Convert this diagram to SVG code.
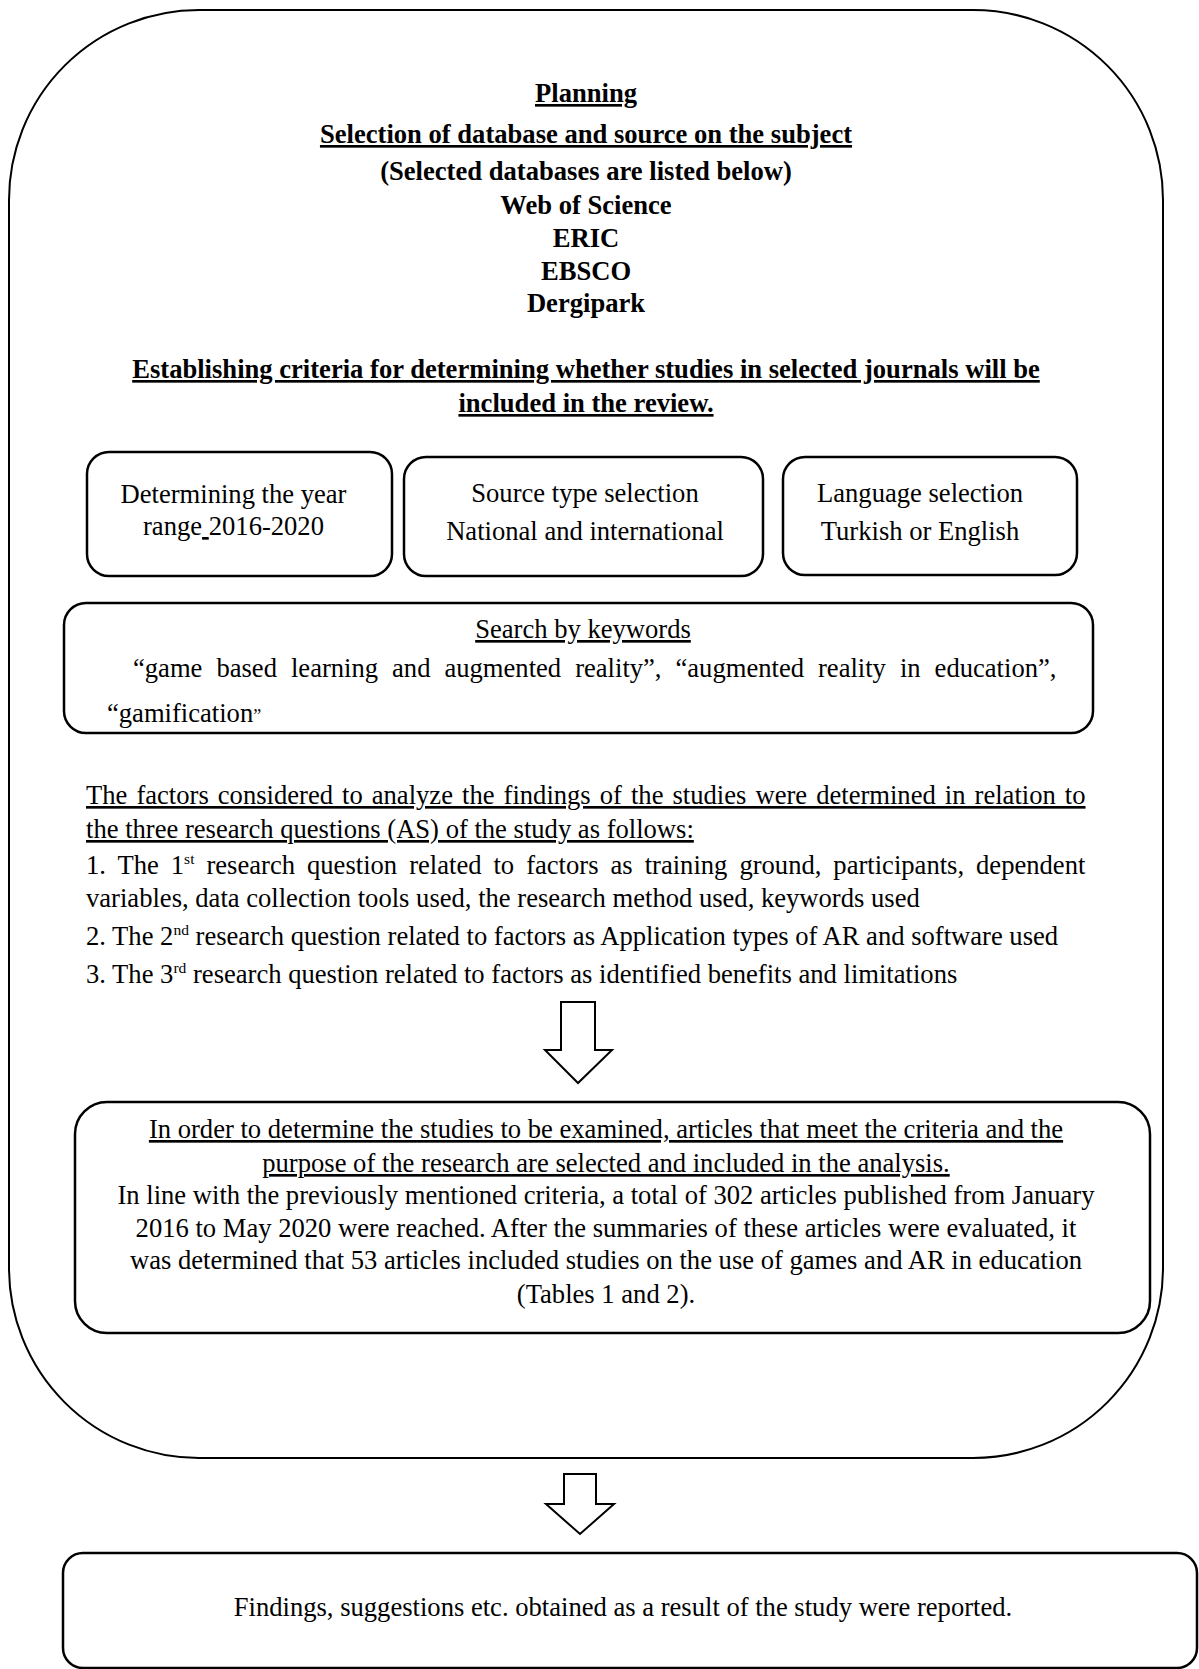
<svg xmlns="http://www.w3.org/2000/svg" width="1199" height="1669" viewBox="0 0 1199 1669">
<style>
text{font-family:"Liberation Serif","Times New Roman",serif;font-size:26.6px;fill:#000}
.b{font-weight:bold}
.u{text-decoration:underline}
.m{text-anchor:middle}
.box{fill:none;stroke:#000;stroke-width:2.5}
.outer{fill:none;stroke:#000;stroke-width:2}
.arrow{fill:#fff;stroke:#000;stroke-width:2;stroke-linejoin:miter}
.sup{font-size:15.5px}
</style>
<rect width="1199" height="1669" fill="#fff"/>
<g id="planning">
<rect class="outer" x="9" y="10" width="1154" height="1448" rx="190" ry="190"/>
<text class="b u m" x="586" y="102">Planning</text>
<text class="b u m" x="586" y="143">Selection of database and source on the subject</text>
<text class="b m" x="586" y="180">(Selected databases are listed below)</text>
<text class="b m" x="586" y="214">Web of Science</text>
<text class="b m" x="586" y="247">ERIC</text>
<text class="b m" x="586" y="280">EBSCO</text>
<text class="b m" x="586" y="312">Dergipark</text>
<text class="b u m" x="586" y="378">Establishing criteria for determining whether studies in selected journals will be</text>
<text class="b u m" x="586" y="412">included in the review.</text>
</g>
<g id="year-range">
<rect class="box" x="87" y="452" width="305" height="124" rx="22" ry="22"/>
<text class="m" x="233.5" y="503">Determining the year</text>
<text class="m" x="233.5" y="535">range<tspan class="u">&#160;</tspan>2016-2020</text>
</g>
<g id="source-type">
<rect class="box" x="404" y="457" width="359" height="119" rx="22" ry="22"/>
<text class="m" x="585" y="502">Source type selection</text>
<text class="m" x="585" y="540">National and international</text>
</g>
<g id="language">
<rect class="box" x="783" y="457" width="294" height="118" rx="22" ry="22"/>
<text class="m" x="920" y="502">Language selection</text>
<text class="m" x="920" y="540">Turkish or English</text>
</g>
<g id="keywords">
<rect class="box" x="64" y="603" width="1029" height="130" rx="22" ry="22"/>
<text class="u m" x="583" y="638">Search by keywords</text>
<text x="133" y="677" word-spacing="7.35">“game based learning and augmented reality”, “augmented reality in education”,</text>
<text x="107" y="722">“gamification<tspan font-size="18">”</tspan></text>
</g>
<g id="factors">
<text class="u" x="86" y="804" word-spacing="2.4">The factors considered to analyze the findings of the studies were determined in relation to</text>
<text class="u" x="86" y="838">the three research questions (AS) of the study as follows:</text>
<text x="86" y="874" word-spacing="5.35">1. The 1<tspan class="sup" dy="-10">st</tspan><tspan dy="10"> research question related to factors as training ground, participants, dependent</tspan></text>
<text x="86" y="907">variables, data collection tools used, the research method used, keywords used</text>
<text x="86" y="945">2. The 2<tspan class="sup" dy="-10">nd</tspan><tspan dy="10"> research question related to factors as Application types of AR and software used</tspan></text>
<text x="86" y="983">3. The 3<tspan class="sup" dy="-10">rd</tspan><tspan dy="10"> research question related to factors as identified benefits and limitations</tspan></text>
</g>
<g id="selection">
<rect class="box" x="75" y="1102" width="1075" height="231" rx="32" ry="32"/>
<text class="u m" x="606" y="1138">In order to determine the studies to be examined, articles that meet the criteria and the</text>
<text class="u m" x="606" y="1172">purpose of the research are selected and included in the analysis.</text>
<text class="m" x="606" y="1204">In line with the previously mentioned criteria, a total of 302 articles published from January</text>
<text class="m" x="606" y="1237">2016 to May 2020 were reached. After the summaries of these articles were evaluated, it</text>
<text class="m" x="606" y="1269">was determined that 53 articles included studies on the use of games and AR in education</text>
<text class="m" x="606" y="1303">(Tables 1 and 2).</text>
</g>
<g id="findings">
<rect class="box" x="63" y="1553" width="1134" height="115" rx="20" ry="20"/>
<text class="m" x="623" y="1616">Findings, suggestions etc. obtained as a result of the study were reported.</text>
</g>
<g id="connectors">
<polygon class="arrow" points="561,1002 595,1002 595,1050 612,1050 578,1083 545,1050 561,1050"/>
<polygon class="arrow" points="564,1474 596,1474 596,1504 614,1504 580,1534 546,1504 564,1504"/>
</g>
</svg>
